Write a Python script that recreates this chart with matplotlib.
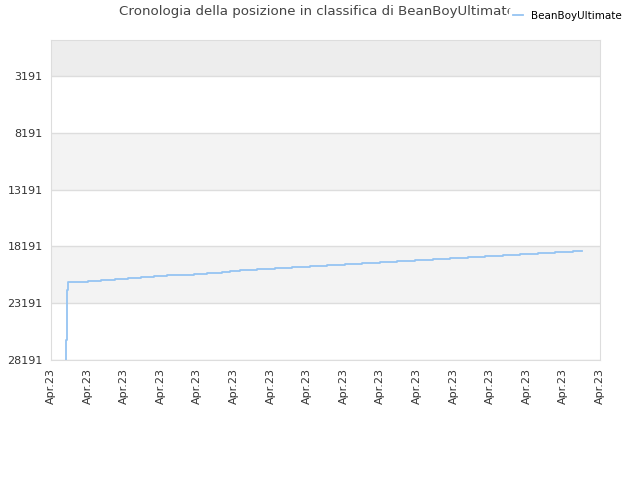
import matplotlib
matplotlib.use("Agg")
import matplotlib.pyplot as plt

# hours since the first day, and the rank at each step
hours = [9.8, 9.85, 10.3, 10.35, 10.4, 10.95, 15.7, 24.3, 32.8, 42.0, 50.5, 59.0,
         67.5, 76.1, 85.2, 93.8, 102.3, 112.1, 117.4, 123.9, 134.9, 146.9, 158.0,
         169.8, 181.0, 192.8, 203.9, 215.7, 226.9, 238.7, 250.3, 261.6, 273.4,
         284.6, 296.4, 307.5, 319.3, 330.5, 342.3, 348.2]
rank = [28191, 26437, 24594, 22665, 22051, 21351, 21298, 21210, 21122, 21034, 20946,
        20876, 20814, 20735, 20664, 20594, 20506, 20444, 20330, 20251, 20163, 20075,
        19978, 19899, 19811, 19723, 19626, 19546, 19458, 19370, 19282, 19185, 19097,
        19018, 18930, 18842, 18754, 18666, 18578, 18578]

yticks = [3191, 8191, 13191, 18191, 23191, 28191]
xtick_hours = list(range(0, 361, 24))
xtick_labels = ["Apr.23"] * len(xtick_hours)
player = "BeanBoyUltimate"

fig = plt.figure(figsize=(6.4, 4.8), dpi=100)
ax = fig.add_axes([51 / 640, 0.25, 549 / 640, 320 / 480])

# shaded bands
ax.axhspan(0, 3191, color="#ededed", zorder=0, lw=0)
ax.axhspan(8191, 13191, color="#f3f3f3", zorder=0, lw=0)
ax.axhspan(18191, 23191, color="#f3f3f3", zorder=0, lw=0)
for t in yticks:
    ax.axhline(t, color="#dddddd", lw=1, zorder=1)

ax.plot(hours, rank, drawstyle="steps-post", color="#95c4f2", lw=1.3,
        label=player, zorder=3)

ax.set_ylim(28191, 0)
ax.set_xlim(0, 360)
ax.set_yticks(yticks)
ax.set_yticklabels([str(t) for t in yticks])
ax.set_xticks(xtick_hours)
ax.set_xticklabels(xtick_labels, rotation=90)
ax.tick_params(length=0, labelsize=8, colors="#333333", pad=6)
for s in ax.spines.values():
    s.set_color("#dddddd")

fig.text(0.495, 0.975, "Cronologia della posizione in classifica di " + player,
         ha="center", va="center", fontsize=9.6, color="#444444", zorder=2)
leg = fig.legend(loc="upper right", bbox_to_anchor=(0.985, 0.995), fontsize=7.5,
                 frameon=True, handlelength=1.0, handletextpad=0.8, borderpad=0.3)
leg.get_frame().set_facecolor("white")
leg.get_frame().set_edgecolor("white")
leg.get_frame().set_alpha(1)
leg.set_zorder(10)

fig.savefig("out.png", dpi=100)
